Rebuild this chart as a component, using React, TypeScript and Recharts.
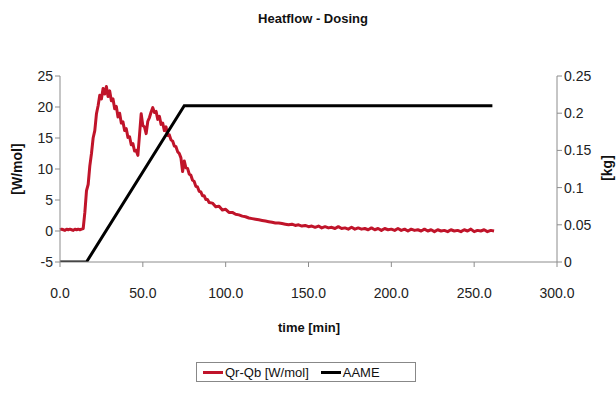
import React from "react";
import { Label, Legend, Line, LineChart, XAxis, YAxis } from "recharts";

// time [min] for the heat flow trace
const RED_TIME = [
    0, 1, 2, 3, 4, 5, 6, 7, 8, 9, 10, 11, 12, 13, 14, 15, 16, 17, 18, 19, 20, 21, 22, 23, 24, 25, 26, 27, 28, 29,
    30, 31, 32, 33, 34, 35, 36, 37, 38, 39, 40, 41, 42, 43, 44, 45, 46, 47, 48, 49, 50, 51, 52, 53, 54, 55, 56, 57,
    58, 59, 60, 61, 62, 63, 64, 65, 66, 67, 68, 69, 70, 71, 72, 73, 74, 75, 76, 77, 78, 79, 80, 81, 82, 83, 84, 85,
    86, 87, 88, 89, 90, 92, 94, 96, 98, 100, 102, 104, 106, 108, 110, 112, 114, 116, 118, 120, 122, 124, 126, 128,
    130, 132, 134, 136, 138, 140, 142, 144, 146, 148, 150, 152, 154, 156, 158, 160, 162, 164, 166, 168, 170, 172,
    174, 176, 178, 180, 182, 184, 186, 188, 190, 192, 194, 196, 198, 200, 202, 204, 206, 208, 210, 212, 214, 216,
    218, 220, 222, 224, 226, 228, 230, 232, 234, 236, 238, 240, 242, 244, 246, 248, 250, 252, 254, 256, 258, 260, 262,
];

// Qr-Qb [W/mol]
const QR_QB = [
    0.2, 0.3, 0.2, 0.1, 0.3, 0.2, 0.3, 0.2, 0.1, 0.3, 0.2, 0.3, 0.2, 0.3, 0.4, 3.0, 6.5, 7.5, 10.5, 12.5, 15.0, 16.2,
    18.9, 20.2, 21.9, 21.3, 23.0, 22.1, 23.3, 21.7, 22.6, 21.0, 21.3, 19.7, 20.1, 18.4, 19.0, 17.4, 17.6, 16.2, 16.5,
    15.1, 15.2, 13.9, 14.1, 12.9, 13.0, 12.2, 15.5, 18.9, 17.0, 16.8, 15.7, 17.7, 18.3, 19.2, 19.9, 19.1, 19.3, 18.0,
    18.5, 17.2, 17.4, 16.2, 16.8, 15.4, 15.5, 14.7, 14.5, 13.7, 13.6, 12.8, 12.5, 11.8, 9.6, 11.3, 10.2, 10.1, 9.2,
    9.0, 8.2, 8.0, 7.2, 7.1, 6.4, 6.3, 5.7, 5.7, 5.1, 5.1, 4.6, 4.5, 3.9, 4.0, 3.4, 3.5, 3.0, 3.0, 2.7, 2.6, 2.4, 2.3,
    2.1, 2.0, 1.9, 1.8, 1.7, 1.6, 1.5, 1.4, 1.3, 1.3, 1.2, 1.1, 1.0, 1.1, 0.9, 1.0, 0.8, 0.9, 0.7, 0.8, 0.6, 0.8, 0.5,
    0.7, 0.5, 0.6, 0.4, 0.7, 0.4, 0.5, 0.3, 0.6, 0.3, 0.5, 0.3, 0.4, 0.2, 0.5, 0.2, 0.4, 0.1, 0.4, 0.2, 0.3, 0.1, 0.4,
    0.1, 0.3, 0.0, 0.3, 0.1, 0.2, 0.0, 0.3, 0.0, 0.2, -0.1, 0.2, 0.0, 0.1, -0.1, 0.2, 0.0, 0.1, -0.1, 0.2, 0.0, 0.3,
    -0.1, 0.1, 0.0, 0.2, -0.1, 0.1, 0.0, 0.1,
];

// dosed AAME [kg]
const AAME_TIME = [0, 16, 75, 261];
const AAME = [0, 0, 0.21, 0.21];

const X_TICKS = [0, 50, 100, 150, 200, 250, 300];
const LEFT_TICKS = [-5, 0, 5, 10, 15, 20, 25];
const RIGHT_TICKS = [0, 0.05, 0.1, 0.15, 0.2, 0.25];

const RED = "#c0142a";
const AXIS = "#8c8c8c";
const FONT = "'Liberation Sans', Arial, sans-serif";

const redData = RED_TIME.map((t, i) => ({ t, q: QR_QB[i] }));
const aameData = AAME_TIME.map((t, i) => ({ t, kg: AAME[i] }));

const tickStyle = { fontSize: 14, fill: "#222", fontFamily: FONT };

function LegendBox() {
    return (
        <div
            style={{
                display: "flex",
                alignItems: "center",
                border: "1px solid #888",
                height: 20,
                width: 220,
                boxSizing: "border-box",
                fontFamily: FONT,
                fontSize: 13,
                color: "#111",
                paddingLeft: 6,
            }}
        >
            <span style={{ width: 20, height: 3, background: RED, display: "inline-block", marginRight: 2 }} />
            <span>Qr-Qb [W/mol]</span>
            <span style={{ width: 20, height: 3, background: "#000", display: "inline-block", margin: "0 2px 0 12px" }} />
            <span>AAME</span>
        </div>
    );
}

export default function App() {
    return (
        <div style={{ position: "absolute", left: 0, top: 0, width: 616, height: 393, background: "#fff" }}>
            <div
                style={{
                    position: "absolute",
                    left: 0,
                    width: 626,
                    top: 11,
                    textAlign: "center",
                    fontFamily: FONT,
                    fontWeight: "bold",
                    fontSize: 13,
                    color: "#111",
                }}
            >
                Heatflow - Dosing
            </div>
            <LineChart width={616} height={393} margin={{ top: 76, right: 0, left: 0, bottom: 101 }}>
                <XAxis
                    dataKey="t"
                    type="number"
                    domain={[0, 300]}
                    ticks={X_TICKS}
                    tickFormatter={(v: number) => v.toFixed(1)}
                    stroke={AXIS}
                    tick={tickStyle}
                    tickSize={5}
                    tickMargin={21}
                    height={30}
                >
                    <Label
                        content={() => (
                            <text x={309} y={332} textAnchor="middle" fontFamily={FONT} fontWeight="bold" fontSize={13} fill="#111">
                                time [min]
                            </text>
                        )}
                    />
                </XAxis>
                <YAxis
                    yAxisId="left"
                    domain={[-5, 25]}
                    ticks={LEFT_TICKS}
                    stroke={AXIS}
                    tick={tickStyle}
                    tickSize={5}
                    width={60}
                    allowDataOverflow
                >
                    <Label
                        content={() => (
                            <text
                                x={22}
                                y={169}
                                transform="rotate(-90 22 169)"
                                textAnchor="middle"
                                fontFamily={FONT}
                                fontWeight="bold"
                                fontSize={14}
                                fill="#111"
                            >
                                [W/mol]
                            </text>
                        )}
                    />
                </YAxis>
                <YAxis
                    yAxisId="right"
                    orientation="right"
                    domain={[0, 0.25]}
                    ticks={RIGHT_TICKS}
                    stroke={AXIS}
                    tick={tickStyle}
                    tickSize={5}
                    width={59}
                    allowDataOverflow
                >
                    <Label
                        content={() => (
                            <text
                                x={612}
                                y={168}
                                transform="rotate(-90 612 168)"
                                textAnchor="middle"
                                fontFamily={FONT}
                                fontWeight="bold"
                                fontSize={14}
                                fill="#111"
                            >
                                [kg]
                            </text>
                        )}
                    />
                </YAxis>
                <Line
                    yAxisId="left"
                    data={redData}
                    dataKey="q"
                    name="Qr-Qb [W/mol]"
                    stroke={RED}
                    strokeWidth={3}
                    strokeLinejoin="round"
                    dot={false}
                    isAnimationActive={false}
                />
                <Line
                    yAxisId="right"
                    data={aameData}
                    dataKey="kg"
                    name="AAME"
                    stroke="#000"
                    strokeWidth={3}
                    dot={false}
                    isAnimationActive={false}
                />
                <Legend
                    layout="horizontal"
                    verticalAlign="middle"
                    content={() => <LegendBox />}
                    wrapperStyle={{ top: 362, left: 196, width: 220, height: 20 }}
                />
            </LineChart>
        </div>
    );
}
